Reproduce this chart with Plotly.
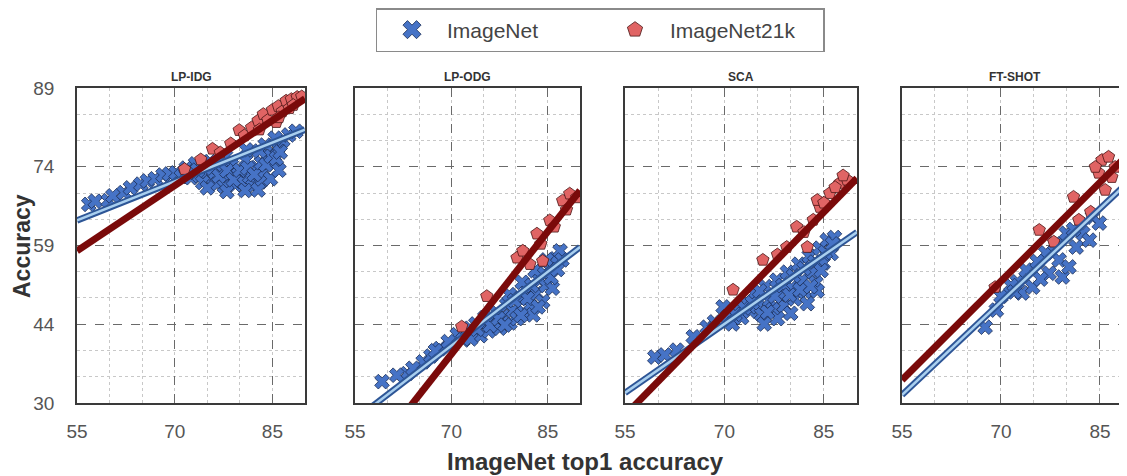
import plotly.graph_objects as go

# ---------------- data ----------------
panel_titles = ["LP-IDG", "LP-ODG", "SCA", "FT-SHOT"]
series_names = ["ImageNet", "ImageNet21k"]
x_tick_vals = [55, 70, 85]
y_tick_vals = [30, 44.75, 59.5, 74.25, 89]
y_tick_text = ["30", "44", "59", "74", "89"]

# LP-IDG
idg_in_x = [56.8, 57.8, 59.8, 60.5, 62.2, 63.2, 64.8, 65.8, 67.0, 68.2, 69.2, 70.2,
            71.0, 71.8, 72.5, 73.2, 73.8, 74.3, 74.9, 75.4, 76.0, 76.5, 77.0, 77.6,
            78.2, 78.7, 79.3, 79.8, 80.4, 80.9, 81.5, 82.0, 82.6, 83.1, 83.7, 84.2,
            84.7, 85.3, 85.8, 86.0, 86.6, 87.5, 88.6, 77.8, 81.0, 83.9, 85.4, 75.0,
            80.8, 82.8, 78.0, 72.0, 73.5, 75.8, 76.8, 78.0, 79.0, 80.0, 81.2, 82.2,
            83.3, 84.0, 84.8, 85.6, 86.2, 83.0]
idg_in_y = [67.2, 67.8, 67.9, 68.8, 69.4, 70.3, 71.0, 71.6, 72.0, 72.7, 72.9, 73.1,
            72.4, 74.0, 72.2, 74.8, 72.6, 71.3, 73.4, 75.2, 72.1, 71.0, 73.8, 70.6,
            72.6, 74.5, 70.9, 72.8, 71.5, 75.4, 72.4, 70.6, 74.1, 71.4, 73.3, 76.4,
            72.0, 74.9, 77.8, 73.6, 79.2, 80.2, 80.9, 76.2, 77.4, 78.3, 79.6, 70.3,
            69.8, 69.9, 69.6, 73.2, 73.6, 74.0, 72.5, 73.5, 71.8, 73.6, 74.0, 72.8,
            75.0, 74.6, 76.2, 75.8, 77.0, 77.2]
idg_in21_x = [71.5, 74.0, 75.8, 77.0, 78.6, 79.9, 80.7, 81.8, 82.8, 83.6, 84.3, 85.0,
              85.9, 86.5, 87.1, 87.9, 88.8, 89.5, 85.6, 87.6, 83.0, 86.0, 88.2]
idg_in21_y = [73.8, 75.6, 77.6, 76.9, 78.6, 81.1, 80.1, 81.6, 82.9, 84.1, 83.0, 84.9,
              85.6, 84.6, 86.6, 86.9, 87.3, 87.4, 82.6, 85.2, 81.2, 83.5, 85.8]
idg_fit_x = [55, 90]
idg_fit_in_y = [64.2, 81.2]
idg_fit_in21_y = [58.5, 87.0]

# LP-ODG
odg_in_x = [59.2, 63.1, 65.6, 68.2, 70.9, 72.9, 73.8, 74.5, 75.2, 75.8, 76.4, 77.0,
            77.5, 78.0, 78.6, 79.1, 79.6, 80.2, 80.7, 81.2, 81.7, 82.2, 82.7, 83.2,
            83.7, 84.2, 84.7, 85.2, 85.7, 86.2, 86.9, 84.8, 83.0, 71.8, 69.5, 66.8,
            61.5, 79.0, 81.0, 72.3, 73.0, 74.0, 76.0, 77.3, 78.3, 79.8, 80.8, 81.8,
            82.5, 83.5, 84.5, 85.5, 86.5, 87.2, 64.0, 67.5]
odg_in_y = [34.0, 35.5, 37.7, 40.2, 42.8, 44.0, 44.8, 42.6, 46.0, 43.5, 45.2, 47.0,
            44.0, 46.2, 48.4, 45.0, 47.3, 45.8, 49.6, 47.0, 51.2, 48.3, 46.5, 50.5,
            53.0, 49.0, 52.0, 55.2, 51.5, 57.0, 58.5, 56.8, 54.8, 41.8, 41.5, 38.8,
            35.2, 50.3, 52.6, 43.0, 42.0, 43.8, 44.5, 45.8, 44.6, 49.2, 46.4, 49.6,
            52.0, 48.0, 54.2, 53.5, 55.0, 56.8, 36.5, 39.8]
odg_in21_x = [71.6, 75.5, 80.2, 82.2, 81.1, 84.2, 83.3, 85.3, 87.3, 88.4, 89.5, 83.9,
              86.0, 87.9]
odg_in21_y = [44.3, 50.0, 57.2, 56.0, 58.5, 56.6, 61.7, 64.2, 67.9, 69.2, 68.5, 59.8,
              63.0, 66.2]
odg_fit_x = [55, 90]
odg_fit_in_y = [26.9, 59.2]
odg_fit_in21_y = [16.2, 69.8]

# SCA
sca_in_x = [59.5, 62.8, 65.3, 67.4, 69.8, 70.5, 71.2, 72.0, 72.6, 73.3, 73.9, 74.5,
            75.0, 75.6, 76.2, 76.8, 77.3, 77.9, 78.4, 79.0, 79.5, 80.1, 80.6, 81.2,
            81.7, 82.2, 82.8, 83.3, 83.8, 84.4, 84.9, 85.5, 86.1, 86.6, 80.0, 78.0,
            76.0, 84.0, 82.5, 71.6, 73.0, 74.2, 75.3, 76.5, 77.6, 78.8, 79.8, 80.4,
            81.4, 82.0, 83.0, 83.6, 84.6, 85.2, 86.3, 68.5, 61.0]
sca_in_y = [38.6, 39.9, 42.4, 44.2, 48.0, 46.2, 44.8, 47.5, 46.0, 49.0, 47.2, 50.5,
            48.0, 46.6, 51.8, 49.2, 47.5, 53.0, 50.4, 48.2, 54.5, 51.6, 49.5, 56.0,
            53.0, 50.8, 57.5, 54.6, 52.5, 59.0, 56.2, 60.5, 58.0, 61.0, 46.8, 45.8,
            44.8, 51.0, 48.6, 46.6, 47.8, 48.8, 51.0, 47.0, 50.0, 52.0, 50.2, 53.8,
            51.2, 55.2, 51.8, 56.4, 54.8, 58.2, 59.8, 45.2, 39.0]
sca_in21_x = [71.3, 75.8, 79.4, 80.9, 82.5, 83.4, 84.4, 85.9, 87.4, 88.5, 84.0, 86.7,
              82.0, 78.0, 85.0, 87.9]
sca_in21_y = [51.2, 56.8, 59.2, 63.0, 59.2, 64.3, 66.7, 69.3, 71.2, 71.8, 68.0, 70.4,
              62.0, 57.8, 67.5, 72.6]
sca_fit_x = [55, 90]
sca_fit_in_y = [31.9, 62.0]
sca_fit_in21_y = [27.7, 72.1]

# FT-SHOT
shot_in_x = [67.6, 69.3, 72.5, 73.2, 73.8, 74.8, 76.8, 77.3, 78.8, 79.3, 79.9, 80.3,
             81.4, 82.4, 83.4, 83.9, 84.9, 70.0, 75.5, 78.2, 81.0, 76.0, 71.5, 72.0]
shot_in_y = [44.2, 47.4, 52.7, 50.6, 54.9, 51.7, 58.1, 54.3, 56.8, 53.6, 61.8, 55.5,
             59.2, 61.8, 60.5, 64.8, 63.7, 50.0, 56.5, 59.8, 62.5, 53.2, 52.0, 50.8]
shot_in21_x = [69.1, 75.8, 78.0, 81.0, 81.8, 83.6, 84.8, 85.3, 86.3, 86.8, 85.8, 87.3, 84.3]
shot_in21_y = [51.7, 62.4, 60.2, 68.6, 64.3, 65.8, 73.1, 75.5, 76.1, 72.3, 69.9, 74.2, 74.2]
shot_fit_x = [55, 90]
shot_fit_in_y = [31.5, 72.2]
shot_fit_in21_y = [34.3, 77.5]

panels = [
    (idg_in_x, idg_in_y, idg_in21_x, idg_in21_y, idg_fit_x, idg_fit_in_y, idg_fit_in21_y),
    (odg_in_x, odg_in_y, odg_in21_x, odg_in21_y, odg_fit_x, odg_fit_in_y, odg_fit_in21_y),
    (sca_in_x, sca_in_y, sca_in21_x, sca_in21_y, sca_fit_x, sca_fit_in_y, sca_fit_in21_y),
    (shot_in_x, shot_in_y, shot_in21_x, shot_in21_y, shot_fit_x, shot_fit_in_y, shot_fit_in21_y),
]

# ---------------- style ----------------
# The page body has an 8px margin, so the figure starts at (8, 8) in the window.
OFF = 8
W, H = 1127 - OFF, 476 - OFF
panel_px = [(77, 305), (355, 580), (625, 857), (902, 1127)]   # window pixels
x_ranges = [[55, 90], [55, 90], [55, 90], [55, 89.1]]
plot_top, plot_bottom = 88, 403                               # window pixels
FONT = "Liberation Sans, Arial, sans-serif"
BLUE = "#4673C6"
BLUE_EDGE = "#1B2D55"
RED = "#E06464"
RED_EDGE = "#4A1414"
RED_LINE = "#7A0A0A"
BLUE_LINE_OUT = "#2D5596"
BLUE_LINE_IN = "#A9CFEF"


def fx_(px):
    return (px - OFF) / W


def fy_(py):
    return (H - (py - OFF)) / H


fig = go.Figure()
layout = dict(
    width=W, height=H,
    margin=dict(l=0, r=0, t=0, b=0, autoexpand=False),
    paper_bgcolor="white", plot_bgcolor="white",
    font=dict(family=FONT, color="#555555"),
    showlegend=True,
)

y_minor = [34.92, 39.83, 49.67, 54.58, 64.42, 69.33, 79.17, 84.08]
ydom = [fy_(plot_bottom), fy_(plot_top)]
annotations = []

for i, (ix, iy, rx, ry, fx, fiy, fry) in enumerate(panels):
    n = "" if i == 0 else str(i + 1)
    xa, ya = "x" + n, "y" + n
    l, r = panel_px[i]
    layout["xaxis" + n] = dict(
        domain=[fx_(l), min(1.0, fx_(r))], range=x_ranges[i], anchor=ya,
        tickmode="array", tickvals=x_tick_vals, ticktext=[str(v) for v in x_tick_vals],
        showgrid=True, gridcolor="#6a6a6a", griddash="dash", gridwidth=1,
        minor=dict(tick0=55, dtick=5, showgrid=True, gridcolor="#c8c8c8",
                   griddash="dot", gridwidth=1),
        showline=True, linecolor="#3a3a3a", linewidth=1.6, mirror=True,
        ticks="", ticklabelstandoff=10, tickfont=dict(size=19, color="#555555", family=FONT),
        zeroline=False, fixedrange=True,
    )
    layout["yaxis" + n] = dict(
        domain=ydom, range=[30, 89], anchor=xa,
        tickmode="array", tickvals=y_tick_vals, ticktext=y_tick_text,
        showticklabels=(i == 0),
        showgrid=True, gridcolor="#6a6a6a", griddash="dash", gridwidth=1,
        minor=dict(tickmode="array", tickvals=y_minor, showgrid=True,
                   gridcolor="#c8c8c8", griddash="dot", gridwidth=1),
        showline=True, linecolor="#3a3a3a", linewidth=1.6, mirror=True,
        ticks="", ticklabelstandoff=17, tickfont=dict(size=19, color="#555555", family=FONT),
        zeroline=False, fixedrange=True,
    )
    # scatter points
    fig.add_trace(go.Scatter(
        x=ix, y=iy, mode="markers", xaxis=xa, yaxis=ya, showlegend=False,
        marker=dict(symbol="x", size=13, color=BLUE, line=dict(color=BLUE_EDGE, width=0.8)),
    ))
    fig.add_trace(go.Scatter(
        x=rx, y=ry, mode="markers", xaxis=xa, yaxis=ya, showlegend=False,
        marker=dict(symbol="pentagon", size=13, color=RED, line=dict(color=RED_EDGE, width=0.8)),
    ))
    # fit lines
    fig.add_trace(go.Scatter(
        x=fx, y=fiy, mode="lines", xaxis=xa, yaxis=ya, showlegend=False,
        line=dict(color=BLUE_LINE_OUT, width=6.5),
    ))
    fig.add_trace(go.Scatter(
        x=fx, y=fiy, mode="lines", xaxis=xa, yaxis=ya, showlegend=False,
        line=dict(color=BLUE_LINE_IN, width=2.5),
    ))
    fig.add_trace(go.Scatter(
        x=fx, y=fry, mode="lines", xaxis=xa, yaxis=ya, showlegend=False,
        line=dict(color=RED_LINE, width=7),
    ))
    annotations.append(dict(
        text="<b>" + panel_titles[i] + "</b>", x=fx_((l + r) / 2), y=fy_(77),
        xref="paper", yref="paper", showarrow=False, xanchor="center", yanchor="middle",
        font=dict(size=12, color="#333333", family=FONT),
    ))

# legend-only traces
fig.add_trace(go.Scatter(
    x=[None], y=[None], mode="markers", name=series_names[0],
    marker=dict(symbol="x", size=16, color=BLUE, line=dict(color=BLUE_EDGE, width=0.8)),
))
fig.add_trace(go.Scatter(
    x=[None], y=[None], mode="markers", name=series_names[1],
    marker=dict(symbol="pentagon", size=16, color=RED, line=dict(color=RED_EDGE, width=0.8)),
))

annotations.append(dict(
    text="<b>Accuracy</b>", x=fx_(22), y=fy_(246), xref="paper", yref="paper",
    showarrow=False, textangle=-90, xanchor="center", yanchor="middle",
    font=dict(size=23, color="#333333", family=FONT),
))
annotations.append(dict(
    text="<b>ImageNet top1 accuracy</b>", x=fx_(585), y=fy_(461), xref="paper",
    yref="paper", showarrow=False, xanchor="center", yanchor="middle",
    font=dict(size=24, color="#333333", family=FONT),
))

layout["annotations"] = annotations
layout["legend"] = dict(
    orientation="h", x=fx_(600), xanchor="center", y=fy_(8), yanchor="top",
    bordercolor="#8a8a8a", borderwidth=1.5, bgcolor="white",
    font=dict(size=21, color="#444444", family=FONT),
    itemwidth=60, entrywidth=148, itemsizing="trace",
)
fig.update_layout(**layout)
fig.write_html("out.html")
